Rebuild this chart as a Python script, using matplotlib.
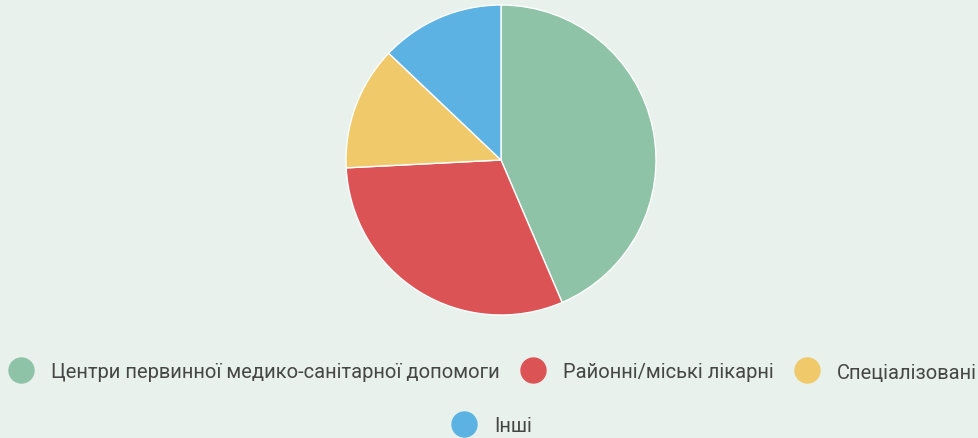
import matplotlib
matplotlib.use("Agg")
import matplotlib.pyplot as plt
from matplotlib.lines import Line2D

categories = ["Центри первинної медико-санітарної допомоги", "Районні/міські лікарні",
              "Спеціалізовані", "Інші"]
values = [27, 19, 8, 8]
colors = ["#8ec3a7", "#dc5356", "#f0ca6a", "#5cb3e3"]

bg = "#e8f1eb"
plt.rcParams['font.family'] = ['Roboto', 'DejaVu Sans']

fig = plt.figure(figsize=(9.79, 4.39), dpi=100, facecolor=bg)
ax = fig.add_axes([346/979, 1 - 316/439, 310/979, 310/439])
ax.set_facecolor(bg)
ax.pie(values, colors=colors, startangle=90, counterclock=False,
       wedgeprops=dict(edgecolor="white", linewidth=1.0), radius=1)
ax.set_xlim(-1.0, 1.0)
ax.set_ylim(-1.0, 1.0)
ax.set_aspect("equal")
ax.axis("off")

def handle(c):
    return Line2D([], [], linestyle="none", marker="o", markersize=18,
                  markerfacecolor=c, markeredgecolor=c)

common = dict(frameon=False, fontsize=14.5, labelcolor="#464646",
              handletextpad=0.9, columnspacing=1.05, handlelength=1.2,
              borderaxespad=0, borderpad=0)
leg1 = fig.legend([handle(c) for c in colors[:3]], categories[:3], ncol=3,
                  loc="center", bbox_to_anchor=(493/979, 1 - 373/439), **common)
leg2 = fig.legend([handle(colors[3])], categories[3:], ncol=1,
                  loc="center", bbox_to_anchor=(492/979, 1 - 427/439), **common)

fig.savefig("out.png", dpi=100, facecolor=bg)
